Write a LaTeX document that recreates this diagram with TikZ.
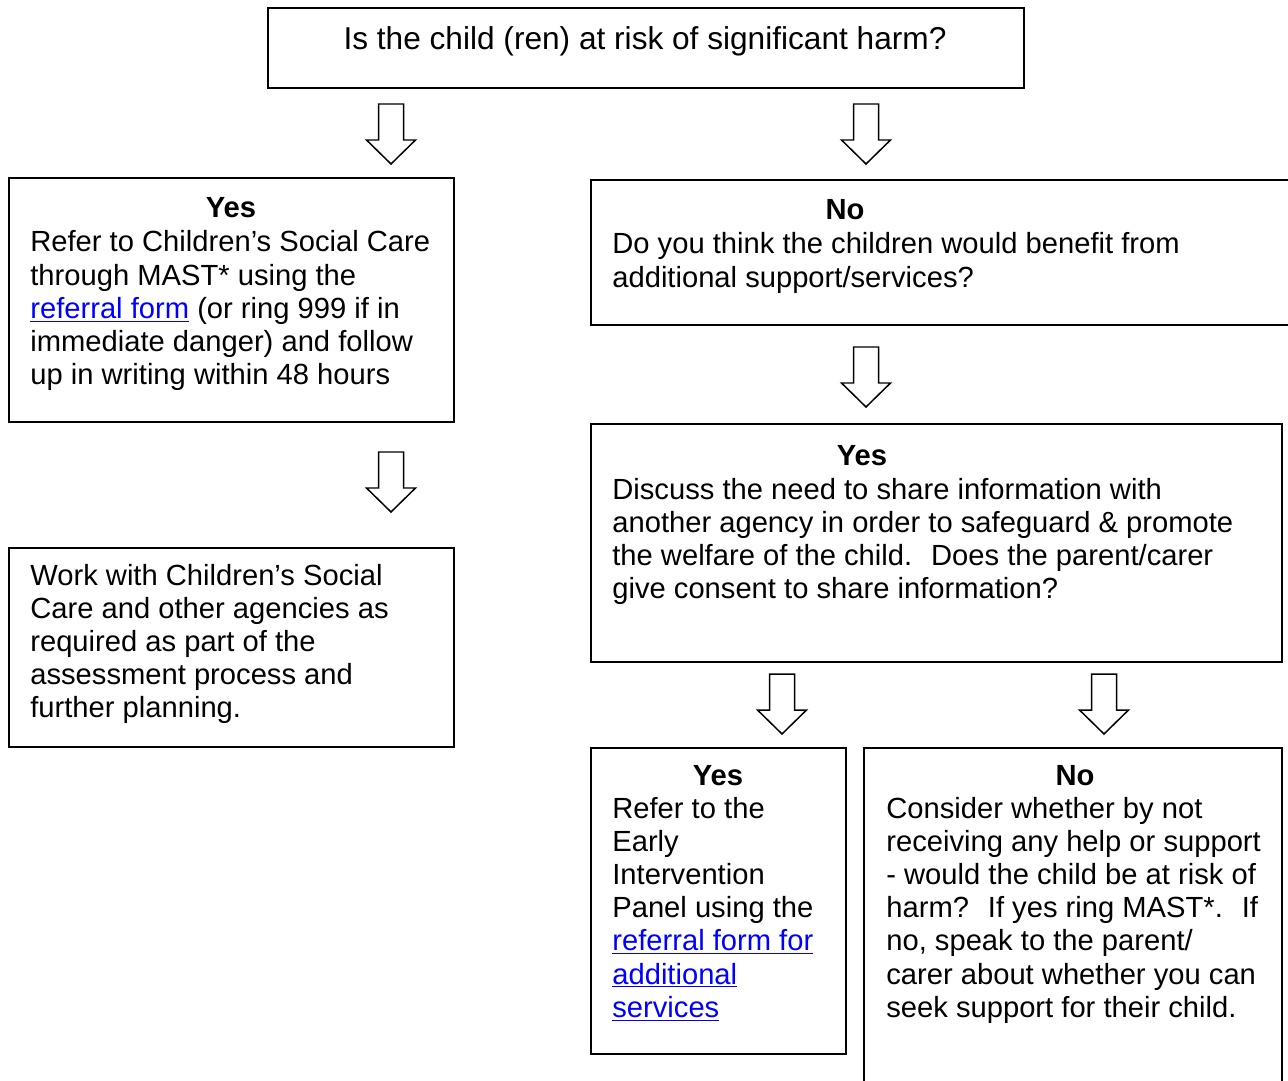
\documentclass[tikz,border=0pt]{standalone}
\usepackage{fontspec}
\setmainfont{Liberation Sans}
\usetikzlibrary{positioning}

\definecolor{linkblue}{RGB}{0,0,255}
\newcommand{\bodyfont}{\fontsize{16.6}{18.9}\selectfont}
\newcommand{\topfont}{\fontsize{18}{21}\selectfont}
\newcommand{\weblink}[1]{\textcolor{linkblue}{\underline{#1}}}
\newcommand{\boxlines}[1]{\begin{tabular}[t]{@{}l@{}}#1\end{tabular}}

\tikzset{
  box/.style={draw, line width=1.1pt, anchor=north west, inner sep=0pt},
  head/.style={anchor=base, font=\bodyfont\bfseries, inner sep=0pt},
  body/.style={anchor=base west, font=\bodyfont, inner sep=0pt},
  bigarrow/.pic={
    \draw[line width=0.85pt, fill=white] (-12.5,0) -- (12.5,0) -- (12.5,36) -- (24.5,36)
      -- (0,60) -- (-24.5,36) -- (-12.5,36) -- cycle;
  }
}

\begin{document}
\begin{tikzpicture}[x=0.02cm, y=-0.02cm]

\clip (0,0) rectangle (1288,1081);

% question
\node[box, minimum width=15.12cm, minimum height=1.6cm] (q) at (267,7) {};
\node[anchor=base, font=\topfont, inner sep=0pt] (qtext) at (645,50) {Is the child (ren) at risk of significant harm?};

% left branch
\node[box, minimum width=8.9cm, minimum height=4.88cm] (yesL) at (8,177) {};
\node[head] (yesLhead) at (231,218) {Yes};
\node[body] (yesLtext) at (30,252) {\boxlines{Refer to Children’s Social Care\\
through MAST* using the\\
\weblink{referral form} (or ring 999 if in\\
immediate danger) and follow\\
up in writing within 48 hours}};

\node[box, minimum width=8.9cm, minimum height=3.98cm] (work) at (8,547) {};
\node[body] (worktext) at (30,585) {\boxlines{Work with Children’s Social\\
Care and other agencies as\\
required as part of the\\
assessment process and\\
further planning.}};

% right branch
\node[box, minimum width=14.4cm, minimum height=2.9cm] (noR) at (590,179) {};
\node[head] (noRhead) at (845,220) {No};
\node[body] (noRtext) at (612,254) {\boxlines{Do you think the children would benefit from\\
additional support/services?}};

\node[box, minimum width=13.82cm, minimum height=4.76cm] (yesR) at (590,423) {};
\node[head] (yesRhead) at (862,465) {Yes};
\node[body] (yesRtext) at (612,499) {\boxlines{Discuss the need to share information with\\
another agency in order to safeguard \& promote\\
the welfare of the child.~ Does the parent/carer\\
give consent to share information?}};

\node[box, minimum width=5.1cm, minimum height=6.12cm] (yesB) at (590,747) {};
\node[head] (yesBhead) at (718,785) {Yes};
\node[body] (yesBtext) at (612,818) {\boxlines{Refer to the\\
Early\\
Intervention\\
Panel using the\\
\weblink{referral form for}\\
\weblink{additional}\\
\weblink{services}}};

\node[box, minimum width=8.36cm, minimum height=7.2cm] (noB) at (863,747) {};
\node[head] (noBhead) at (1075,785) {No};
\node[body] (noBtext) at (886,818) {\boxlines{Consider whether by not\\
receiving any help or support\\
- would the child be at risk of\\
harm?~ If yes ring MAST*.~ If\\
no, speak to the parent/\\
carer about whether you can\\
seek support for their child.}};

% arrows
\coordinate (a1) at (391,104);
\coordinate (a2) at (866,104);
\coordinate (a3) at (866,347);
\coordinate (a4) at (391,452);
\coordinate (a5) at (782,674);
\coordinate (a6) at (1104,674);
\foreach \a in {a1,a2,a3,a4,a5,a6}
  \pic at (\a) {bigarrow};

\end{tikzpicture}
\end{document}
